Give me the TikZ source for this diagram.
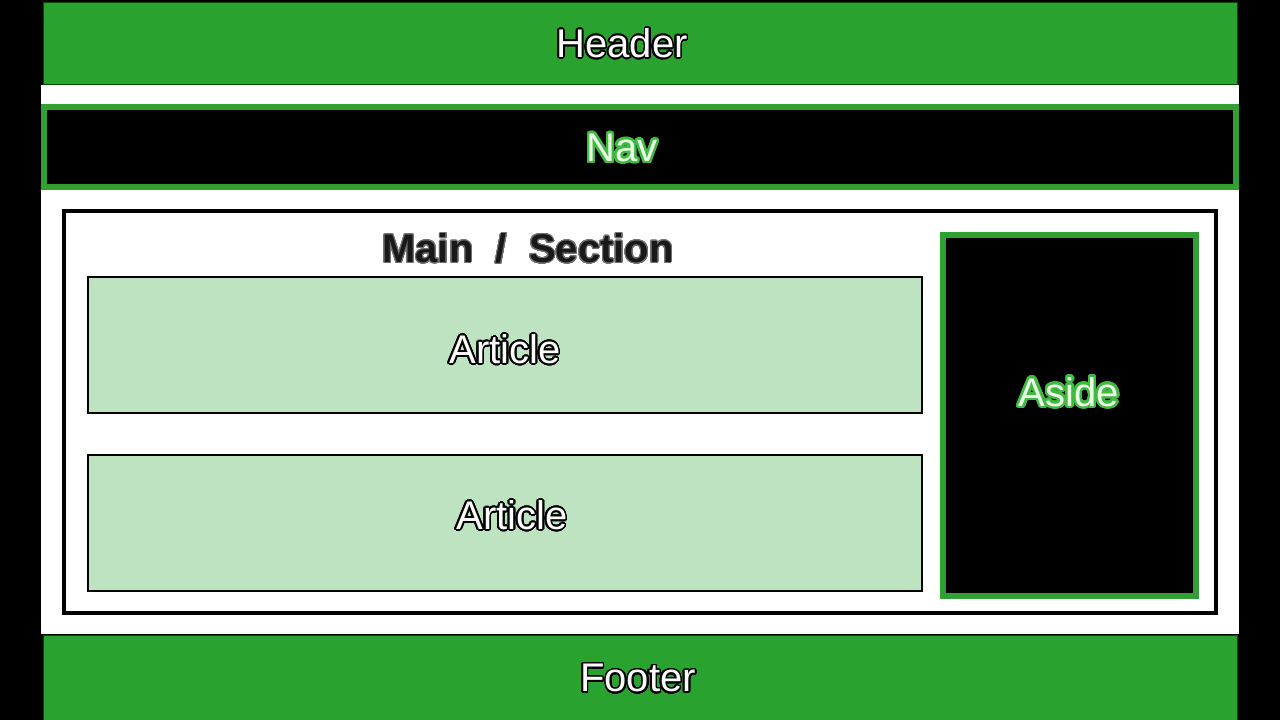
\documentclass[tikz,border=0pt]{standalone}
\usepackage{fontspec}
\setmainfont{Liberation Sans}
\usepackage{contour}
\contournumber{32}
\definecolor{hgreen}{RGB}{42,162,48}
\definecolor{bgreen}{RGB}{46,160,52}
\definecolor{lgreen}{RGB}{189,227,193}
\definecolor{navtxt}{RGB}{235,252,230}
\definecolor{navout}{RGB}{64,186,64}
\tikzset{
  band/.style={draw=black!70!green, line width=1pt, fill=hgreen},
  navbox/.style={draw=bgreen, line width=6pt, fill=black},
  mainbox/.style={draw=black, line width=4pt, fill=white},
  artbox/.style={draw=black, line width=1.8pt, fill=lgreen},
  lbl/.style={inner sep=0pt, font=\fontsize{40}{48}\selectfont},
}
\newcommand{\wtxt}[1]{\contourlength{1.6pt}\contour{black}{\color{white}#1}}
\newcommand{\gtxt}[1]{\contourlength{2.4pt}\contour{navout}{\color{navtxt}#1}}
\begin{document}
\begin{tikzpicture}[x=1pt,y=-1pt]
  \fill[black] (0,0) rectangle (1280,720);
  \useasboundingbox (0,0) rectangle (1280,720);
  % white page area
  \path[fill=white] (41,85) rectangle (1239,634);
  % header
  \path[band] (43,2) rectangle (1237,84);
  \node[lbl] (header) at (622,44) {\wtxt{Header}};
  % nav
  \path[navbox] (44,107) rectangle (1236,187);
  \node[lbl] (nav) at (622,149) {\gtxt{Nav}};
  % main
  \path[mainbox] (64,211) rectangle (1216,613);
  \node[lbl, font=\fontsize{40}{48}\selectfont\bfseries] (main) at (528,249)
    {\contourlength{1pt}\contour{black!55}{\color{black!90}Main\ \ /\ \ Section}};
  % articles
  \path[artbox] (88,277) rectangle (922,413);
  \node[lbl] (art1) at (505,350) {\wtxt{Article}};
  \path[artbox] (88,455) rectangle (922,591);
  \node[lbl] (art2) at (512,516) {\wtxt{Article}};
  % aside
  \path[navbox] (943,235) rectangle (1196,596);
  \node[lbl] (aside) at (1069,393) {\gtxt{Aside}};
  % footer
  \path[band] (43,635) rectangle (1237,722);
  \node[lbl] (footer) at (638,679) {\wtxt{Footer}};
\end{tikzpicture}
\end{document}
